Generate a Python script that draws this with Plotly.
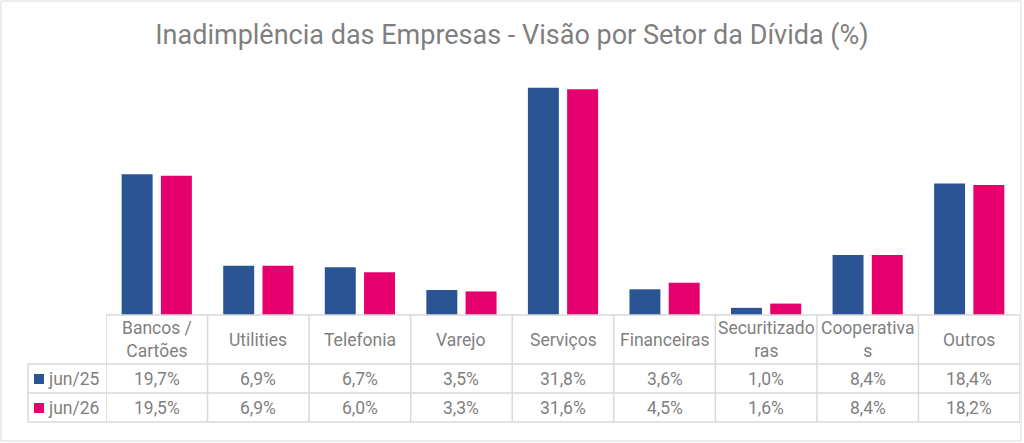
import plotly.graph_objects as go

# data
setores = ["Bancos /<br>Cartões", "Utilities", "Telefonia", "Varejo", "Serviços",
           "Financeiras", "Securitizado<br>ras", "Cooperativa<br>s", "Outros"]
series = ["jun/25", "jun/26"]
jun25 = [19.7, 6.9, 6.7, 3.5, 31.8, 3.6, 1.0, 8.4, 18.4]
jun26 = [19.5, 6.9, 6.0, 3.3, 31.6, 4.5, 1.6, 8.4, 18.2]

BLUE = "#2B5494"
PINK = "#E6006E"
GRID = "#D9D9D9"
TXT = "#7F7F7F"
FONT = "Roboto, Arial, sans-serif"

W, H = 1024, 443
L, R, T, B = 106, 1020, 65, 315  # plot area in pixels


def px(x):
    return (x - L) / (R - L)


def py(y):
    return (B - y) / (B - T)


def pct(v):
    return f"{v:.1f}%".replace(".", ",")


fig = go.Figure()
for name, vals, color in ((series[0], jun25, BLUE), (series[1], jun26, PINK)):
    fig.add_trace(go.Bar(x=list(range(len(setores))), y=vals, name=name,
                         marker=dict(color=color, line=dict(width=0))))

shapes = []
# outer frame of the chart
shapes.append(dict(type="rect", xref="paper", yref="paper", x0=px(1), x1=px(1021),
                   y0=py(441), y1=py(1), line=dict(color=GRID, width=1)))
# data table grid
row_y = [315, 364, 393, 422]
for i, yy in enumerate(row_y):
    x0 = px(L) if i == 0 else px(28)
    shapes.append(dict(type="line", xref="paper", yref="paper", x0=x0, x1=1,
                       y0=py(yy), y1=py(yy), line=dict(color=GRID, width=1.5)))
shapes.append(dict(type="line", xref="paper", yref="paper", x0=px(28), x1=px(28),
                   y0=py(364), y1=py(422), line=dict(color=GRID, width=1.5)))
for k in range(len(setores) + 1):
    shapes.append(dict(type="line", xref="x", yref="paper", x0=k - 0.5, x1=k - 0.5,
                       y0=py(315), y1=py(422), line=dict(color=GRID, width=1.5)))
# legend keys in the table
for yc, color in ((379, BLUE), (408, PINK)):
    shapes.append(dict(type="rect", xref="paper", yref="paper", x0=px(34), x1=px(44),
                       y0=py(yc + 5), y1=py(yc - 5), fillcolor=color, line=dict(width=0)))

ann = []
for i, s in enumerate(setores):
    ann.append(dict(x=i, y=py(339.5), xref="x", yref="paper", text=s, showarrow=False,
                    yanchor="middle", font=dict(family=FONT, size=17.5, color=TXT)))
    for yc, vals in ((379, jun25), (408, jun26)):
        ann.append(dict(x=i, y=py(yc), xref="x", yref="paper", text=pct(vals[i]),
                        showarrow=False, yanchor="middle",
                        font=dict(family=FONT, size=17.5, color=TXT)))
for yc, name in ((379, series[0]), (408, series[1])):
    ann.append(dict(x=px(46), y=py(yc), xref="paper", yref="paper", text=name,
                    showarrow=False, xanchor="left", yanchor="middle",
                    font=dict(family=FONT, size=17.5, color=TXT)))

fig.update_layout(
    width=W, height=H,
    margin=dict(l=L, r=W - R, t=T, b=H - B),
    paper_bgcolor="white", plot_bgcolor="white",
    title=dict(text="Inadimplência das Empresas - Visão por Setor da Dívida (%)",
               xref="container", x=0.5, xanchor="center",
               yref="container", y=1 - 35 / H, yanchor="middle",
               font=dict(family=FONT, size=27, color=TXT)),
    showlegend=False,
    barmode="group", bargap=0.227, bargroupgap=0.211,
    xaxis=dict(range=[-0.5, len(setores) - 0.5], showticklabels=False, showgrid=False,
               zeroline=False, showline=False, ticks=""),
    yaxis=dict(range=[0, 35], visible=False),
    shapes=shapes, annotations=ann,
)

fig.write_html("out.html", config={"displayModeBar": False},
               post_script="document.body.style.margin='0';")
